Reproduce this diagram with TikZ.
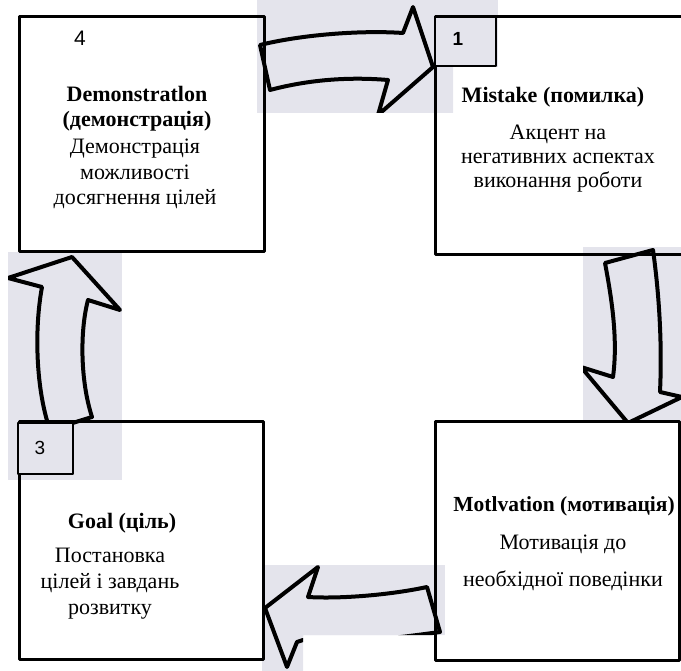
\documentclass[tikz,border=0pt]{standalone}
\usepackage{fontspec}
\setmainfont{Liberation Serif}
\newfontfamily\numfont{Liberation Sans}
\definecolor{scangray}{RGB}{228,228,236}
\begin{document}
\begin{tikzpicture}[x=1pt, y=-1pt, line join=round, font=\fontsize{22}{25.5}\selectfont]
			\tikzset{patch/.style={fill=scangray}, arrowline/.style={line width=4pt, line cap=round}, boxline/.style={line width=3pt}, numbox/.style={line width=2pt}, title/.style={font=\fontsize{22}{25}\selectfont\bfseries, align=center}, body/.style={align=center}}
			\useasboundingbox (0,0) rectangle (681,671);
			% top arrow
			\begin{scope}
				\clip (257,0) -- (498,0) -- (498,67) -- (453,67) -- (453,113) -- (257,113) -- cycle;
				\fill[patch] (257,0) rectangle (498,113);
				\draw[arrowline, patch] (260,45) .. controls (300,35) and (360,30) .. (403,33) -- (413,7) -- (433,67) -- (378,115) -- (388,80) .. controls (340,76) and (300,82) .. (270,90) -- cycle;
			\end{scope}
			% right arrow
			\begin{scope}
				\clip (583,247) rectangle (681,423);
				\fill[patch] (583,247) rectangle (681,423);
				\draw[arrowline, patch] (605,263) .. controls (612,300) and (618,340) .. (613,377) -- (581,367) -- (628,423) -- (682,397) -- (660,392) .. controls (662,350) and (660,300) .. (653,250) -- cycle;
			\end{scope}
			% bottom arrow
			\begin{scope}
				\clip (262,565) -- (445,565) -- (445,635) -- (303,635) -- (303,671) -- (262,671) -- cycle;
				\fill[patch] (262,565) rectangle (445,671);
				\draw[arrowline, patch] (265,608) -- (318,567) -- (308,597) .. controls (340,599) and (390,595) .. (427,587) -- (440,632) .. controls (380,640) .. (303,640) -- (297,642) -- (287,667) -- cycle;
			\end{scope}
			% left arrow
			\begin{scope}
				\clip (8,252) rectangle (122,480);
				\fill[patch] (8,252) rectangle (122,480);
				\draw[arrowline, patch] (72,257) -- (8,278) -- (42,287) .. controls (34,330) and (36,390) .. (50,430) -- (92,417) .. controls (80,380) and (80,330) .. (88,300) -- (120,310) -- cycle;
			\end{scope}
			% boxes
			\draw[boxline] (19,17) rectangle (264,252);
			\draw[boxline] (681,17) -- (435,17) -- (435,255) -- (681,255);
			\draw[boxline] (435,422) rectangle (679,660);
			\draw[boxline] (19,422) rectangle (263,659);
			\draw[numbox, patch] (435,17) rectangle (496,66);
			\draw[numbox, patch] (18,423) rectangle (73,474);
			\node[font=\numfont\fontsize{19}{19}\selectfont\bfseries] (n1) at (458,39) {1};
			\node[font=\numfont\fontsize{19}{19}\selectfont] (n3) at (40,448) {3};
			\node[font=\numfont\fontsize{21}{21}\selectfont] (n4) at (80,38) {4};
			% texts
			\node[title] (demoT) at (137,109) {Demonstratlon\\(демонстрація)};
			\node[body] (demoB) at (135,174) {Демонстрація\\можливості\\досягнення цілей};
			\node[title] (mistT) at (553,97) {Mistake (помилка)};
			\node[body, font=\fontsize{22}{24}\selectfont] (mistB) at (558,159) {Акцент на\\негативних аспектах\\виконання роботи};
			\node[title, font=\fontsize{21.5}{25}\selectfont\bfseries] (motT) at (564,506) {Motlvation (мотивація)};
			\node[body, font=\fontsize{22}{37}\selectfont] (motB) at (563,563) {Мотивація до\\необхідної поведінки};
			\node[title] (goalT) at (122,523) {Goal (ціль)};
			\node[body, font=\fontsize{22}{26}\selectfont] (goalB) at (110,584) {Постановка\\цілей і завдань\\розвитку};
		\end{tikzpicture}
\end{document}
